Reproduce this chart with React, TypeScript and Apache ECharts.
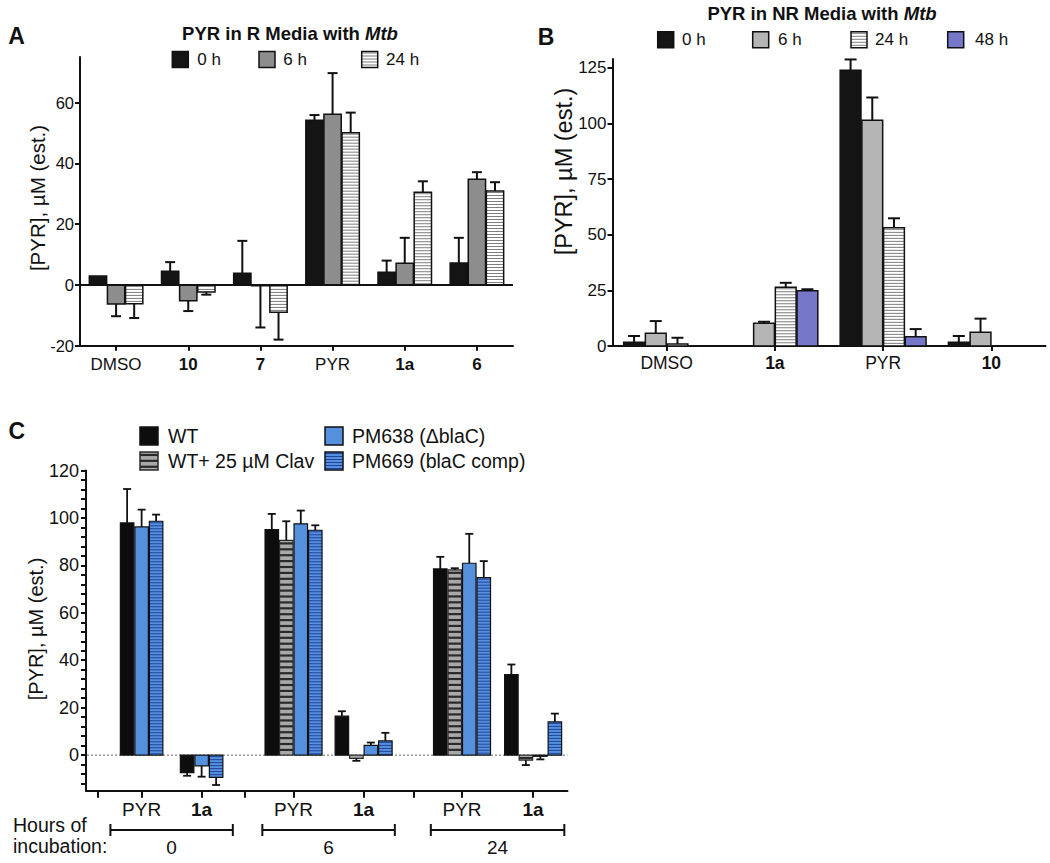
import { useEffect, useRef } from "react";
import * as echarts from "echarts";

const FONT = "'Liberation Sans', Arial, Helvetica, sans-serif";
const INK = "#111111";

// ---------------- Panel A data ----------------
const aTitle = "PYR in R Media with ";
const aTitleItalic = "Mtb";
const aCategories = ["DMSO", "10", "7", "PYR", "1a", "6"];
const aBoldLabels = ["10", "7", "1a", "6"];
const aSeriesNames = ["0 h", "6 h", "24 h"];
const a0h = [2.9, 4.5, 3.8, 54.2, 4.2, 7.2];
const a0hErr = [0, 3.0, 10.7, 1.7, 3.8, 8.3];
const a6h = [-6.3, -5.2, -0.3, 56.2, 7.1, 34.8];
const a6hErr = [4.0, 3.4, 13.7, 13.5, 8.4, 2.3];
const a24h = [-6.2, -2.3, -9.0, 50.1, 30.5, 30.9];
const a24hErr = [4.7, 0.9, 9.0, 6.6, 3.6, 2.9];
const aYTicks = [-20, 0, 20, 40, 60];

// ---------------- Panel B data ----------------
const bTitle = "PYR in NR Media with ";
const bTitleItalic = "Mtb";
const bCategories = ["DMSO", "1a", "PYR", "10"];
const bBoldLabels = ["1a", "10"];
const bSeriesNames = ["0 h", "6 h", "24 h", "48 h"];
const b0h = [1.7, null, 123.9, 1.7];
const b0hErr = [2.8, 0, 4.9, 2.8];
const b6h = [5.7, 10.2, 101.5, 6.2];
const b6hErr = [5.5, 0.7, 10.2, 6.1];
const b24h = [0.9, 26.4, 53.1, null];
const b24hErr = [2.8, 2.0, 4.3, 0];
const b48h = [null, 24.8, 4.2, null];
const b48hErr = [0, 0.7, 3.4, 0];
const bYTicks = [0, 25, 50, 75, 100, 125];

// ---------------- Panel C data ----------------
const cHours = ["0", "6", "24"];
const cCategories = ["PYR", "1a", "PYR", "1a", "PYR", "1a"];
const cBoldLabels = ["1a"];
const cSeriesNames = ["WT", "WT+ 25 µM Clav", "PM638 (ΔblaC)", "PM669 (blaC comp)"];
const cWT = [97.9, -7.4, 95.1, 16.4, 78.5, 34.0];
const cWTErr = [14.3, 1.3, 6.6, 2.1, 5.1, 4.2];
const cClav = [null, null, 90.5, -1.4, 78.1, -2.1];
const cClavErr = [0, 0, 8.1, 1.0, 0.7, 2.1];
const cPM638 = [96.2, -4.5, 97.5, 4.1, 80.9, -0.5];
const cPM638Err = [7.3, 4.6, 5.6, 1.2, 12.4, 1.3];
const cPM669 = [98.6, -9.4, 94.8, 6.0, 74.8, 14.0];
const cPM669Err = [2.8, 3.2, 2.1, 3.4, 7.0, 3.5];
const cYLabels = [0, 20, 40, 60, 80, 100, 120];
const cYTicks = [-12, -8, -4, 0, 4, 8, 12, 16, 20, 24, 28, 32, 36, 40, 44, 48, 52, 56, 60, 64, 68, 72, 76, 80, 84, 88, 92, 96, 100, 104, 108, 112, 116, 120];
const cAxisTitle1 = "Hours of";
const cAxisTitle2 = "incubation:";
const yTitle = "[PYR], µM (est.)";

// ---------------- layout constants (panel C x placement) ----------------
const C_POS = [0, 1.0, 2.532, 3.7, 5.34, 6.525];
const C_SEP = [-0.733, 1.723, 4.528];
const C_XMIN = -0.927;
const C_XMAX = 7.098;
const C_BRACKET_PAD = 0.52;

type BarStyle = { fill: string; stroke?: string; hatch?: string; gap?: number; hw?: number };

const aStyles: BarStyle[] = [
  { fill: "#141414" },
  { fill: "#8d8d8d" },
  { fill: "#ffffff", hatch: "#7d7d7d", gap: 3, hw: 1 },
];
const bStyles: BarStyle[] = [
  { fill: "#141414" },
  { fill: "#b5b5b5" },
  { fill: "#ffffff", hatch: "#7d7d7d", gap: 3, hw: 1 },
  { fill: "#7777c9" },
];
const cStyles: BarStyle[] = [
  { fill: "#0d0d0d" },
  { fill: "#a9a9a9", stroke: "#2a2a2a", hatch: "#2a2a2a", gap: 5.9, hw: 2.2 },
  { fill: "#5590dc" },
  { fill: "#5590dc", hatch: "#23449e", gap: 3, hw: 1 },
];

function barShapes(x: number, y: number, w: number, h: number, st: BarStyle, lw: number, z = 0): any[] {
  const els: any[] = [
    { type: "rect", z, shape: { x, y, width: w, height: h }, style: { fill: st.fill } },
  ];
  if (st.hatch && h > 1) {
    const gap = st.gap || 3;
    for (let yy = y + gap / 2; yy < y + h - 0.6; yy += gap) {
      els.push({
        type: "line",
        z,
        shape: { x1: x, y1: yy, x2: x + w, y2: yy },
        style: { stroke: st.hatch, lineWidth: st.hw || 1 },
      });
    }
  }
  els.push({
    type: "rect",
    z,
    shape: { x, y, width: w, height: h },
    style: { fill: "none", stroke: st.stroke || INK, lineWidth: lw },
  });
  return els;
}

interface PanelCfg {
  xAxisIndex: number;
  yAxisIndex: number;
  slot: number;
  barW: number;
  capW: number;
  errW: number;
  strokeW: number;
  centered: boolean;
  peers: (number | null)[][];
  xs: number[] | null;
}

function makeSeries(cfg: PanelCfg, sIdx: number, name: string, values: (number | null)[], errs: number[], style: BarStyle) {
  const data: number[][] = [];
  values.forEach((v, i) => {
    if (v == null) return;
    data.push([cfg.xs ? cfg.xs[i] : i, v, errs[i] || 0, i]);
  });
  return {
    type: "custom",
    name,
    xAxisIndex: cfg.xAxisIndex,
    yAxisIndex: cfg.yAxisIndex,
    data,
    z: 3,
    clip: false,
    encode: { x: 0, y: 1 },
    renderItem: (_params: any, api: any) => {
      const xv = api.value(0) as number;
      const v = api.value(1) as number;
      const e = api.value(2) as number;
      const ci = api.value(3) as number;
      let n = cfg.peers.length;
      let k = sIdx;
      if (cfg.centered) {
        n = 0;
        k = 0;
        cfg.peers.forEach((arr, j) => {
          if (arr[ci] != null) {
            if (j < sIdx) k++;
            n++;
          }
        });
      }
      const base = api.coord([xv, 0]);
      const tip = api.coord([xv, v]);
      const left = base[0] - (n * cfg.slot) / 2 + k * cfg.slot + (cfg.slot - cfg.barW) / 2;
      const y = Math.min(base[1], tip[1]);
      const h = Math.abs(base[1] - tip[1]);
      const children = barShapes(left, y, cfg.barW, h, style, cfg.strokeW);
      if (e > 0) {
        const dir = v < 0 ? -1 : 1;
        const end = api.coord([xv, v + dir * e])[1];
        const cx = left + cfg.barW / 2;
        children.push({
          type: "line",
          shape: { x1: cx, y1: tip[1], x2: cx, y2: end },
          style: { stroke: INK, lineWidth: cfg.errW },
        });
        children.push({
          type: "line",
          shape: { x1: cx - cfg.capW / 2, y1: end, x2: cx + cfg.capW / 2, y2: end },
          style: { stroke: INK, lineWidth: cfg.errW },
        });
      }
      return { type: "group", children };
    },
  };
}

const axisLine = { show: true, onZero: false, lineStyle: { color: INK, width: 2 } };
const richFor = (size: number) => ({
  n: { fontSize: size, fontFamily: FONT, color: INK },
  b: { fontSize: size, fontFamily: FONT, color: INK, fontWeight: "bold" },
});
const labelRich = (bold: string[], v: string) => (bold.indexOf(v) >= 0 ? `{b|${v}}` : `{n|${v}}`);

function buildOption() {
  const aPeers = [a0h, a6h, a24h];
  const bPeers = [b0h, b6h, b24h, b48h];
  const cPeers = [cWT, cClav, cPM638, cPM669];
  const cfgA: PanelCfg = { xAxisIndex: 0, yAxisIndex: 0, slot: 18.1, barW: 17.3, capW: 10, errW: 2, strokeW: 1.5, centered: false, peers: aPeers, xs: null };
  const cfgB: PanelCfg = { xAxisIndex: 1, yAxisIndex: 1, slot: 21.7, barW: 20.8, capW: 12, errW: 2, strokeW: 1.5, centered: false, peers: bPeers, xs: null };
  const cfgC: PanelCfg = { xAxisIndex: 2, yAxisIndex: 2, slot: 14.5, barW: 13.5, capW: 8, errW: 1.8, strokeW: 1.2, centered: true, peers: cPeers, xs: C_POS };

  const aErrs = [a0hErr, a6hErr, a24hErr];
  const bErrs = [b0hErr, b6hErr, b24hErr, b48hErr];
  const cErrs = [cWTErr, cClavErr, cPM638Err, cPM669Err];

  const series: any[] = [];
  aPeers.forEach((vals, i) => series.push(makeSeries(cfgA, i, "A " + aSeriesNames[i], vals, aErrs[i], aStyles[i])));
  bPeers.forEach((vals, i) => series.push(makeSeries(cfgB, i, "B " + bSeriesNames[i], vals, bErrs[i], bStyles[i])));
  cPeers.forEach((vals, i) => series.push(makeSeries(cfgC, i, cSeriesNames[i], vals, cErrs[i], cStyles[i])));

  const cLabelFor = (val: number) => {
    for (let i = 0; i < C_POS.length; i++) if (Math.abs(C_POS[i] - val) < 1e-6) return labelRich(cBoldLabels, cCategories[i]);
    return "";
  };

  return {
    animation: false,
    backgroundColor: "#ffffff",
    textStyle: { fontFamily: FONT, color: INK },
    grid: [
      { left: 80, top: 57, width: 433, height: 288.7, outerBoundsMode: "none" },
      { left: 612.5, top: 59, width: 433, height: 287, outerBoundsMode: "none" },
      { left: 86, top: 470.5, width: 481.5, height: 320.2, outerBoundsMode: "none" },
    ],
    xAxis: [
      {
        gridIndex: 0,
        type: "category",
        data: aCategories,
        axisLine,
        axisTick: { show: true, alignWithLabel: true, length: 5, lineStyle: { color: INK, width: 2 } },
        axisLabel: { margin: 10, formatter: (v: string) => labelRich(aBoldLabels, v), rich: richFor(17) },
        splitLine: { show: false },
      },
      {
        gridIndex: 1,
        type: "category",
        data: bCategories,
        axisLine,
        axisTick: { show: true, alignWithLabel: true, length: 5, lineStyle: { color: INK, width: 2 } },
        axisLabel: { margin: 8, formatter: (v: string) => labelRich(bBoldLabels, v), rich: richFor(17.5) },
        splitLine: { show: false },
      },
      {
        gridIndex: 2,
        type: "value",
        min: C_XMIN,
        max: C_XMAX,
        axisLine,
        axisTick: { show: true, length: 7, lineStyle: { color: INK, width: 2 }, customValues: [...C_SEP, ...C_POS] },
        axisLabel: { margin: 9, customValues: C_POS, formatter: cLabelFor, rich: richFor(19) },
        splitLine: { show: false },
      },
    ],
    yAxis: [
      {
        gridIndex: 0,
        type: "value",
        min: -20,
        max: 75,
        axisLine,
        axisTick: { show: true, length: 5, lineStyle: { color: INK, width: 2 }, customValues: aYTicks },
        axisLabel: { customValues: aYTicks, fontSize: 16.5, fontFamily: FONT, color: INK, margin: 6 },
        splitLine: { show: false },
      },
      {
        gridIndex: 1,
        type: "value",
        min: 0,
        max: 129,
        axisLine,
        axisTick: { show: true, length: 5, lineStyle: { color: INK, width: 2 }, customValues: bYTicks },
        axisLabel: { customValues: bYTicks, fontSize: 17, fontFamily: FONT, color: INK, margin: 6 },
        splitLine: { show: false },
      },
      {
        gridIndex: 2,
        type: "value",
        min: -15,
        max: 120,
        axisLine,
        axisTick: { show: true, length: 5, lineStyle: { color: INK, width: 2 }, customValues: cYTicks },
        axisLabel: { customValues: cYLabels, fontSize: 18, fontFamily: FONT, color: INK, margin: 7 },
        splitLine: { show: false },
      },
    ],
    series,
  };
}

function text(x: number, y: number, str: string, size: number, opts: any = {}) {
  return {
    type: "text",
    x,
    y,
    rotation: opts.rot || 0,
    z: 20,
    style: {
      text: str,
      fontSize: size,
      fontFamily: FONT,
      fontWeight: opts.bold ? "bold" : "normal",
      fill: INK,
      textAlign: opts.align || "center",
      textVerticalAlign: "middle",
      rich: opts.rich,
    },
  };
}

function titleRich(size: number) {
  return {
    n: { fontSize: size, fontFamily: FONT, fontWeight: "bold", fill: INK, color: INK },
    i: { fontSize: size, fontFamily: FONT, fontWeight: "bold", fontStyle: "italic", fill: INK, color: INK },
  };
}

function legendItem(x: number, y: number, size: number, st: BarStyle, label: string, textX: number, fontSize: number) {
  return {
    type: "group",
    children: [
      ...barShapes(x, y, size, size, st, 1.5, 20),
      text(textX, y + size / 2, label, fontSize, { align: "left" }),
    ],
  };
}

export default function App() {
  const ref = useRef<HTMLDivElement>(null);
  useEffect(() => {
    if (!ref.current) return;
    const chart = echarts.init(ref.current, null, { renderer: "svg" });
    chart.setOption(buildOption() as any);

    const zeroA = chart.convertToPixel({ yAxisIndex: 0 } as any, 0) as unknown as number;
    const zeroC = chart.convertToPixel({ yAxisIndex: 2 } as any, 0) as unknown as number;
    const cx = (v: number) => chart.convertToPixel({ xAxisIndex: 2 } as any, v) as unknown as number;

    const g: any[] = [];
    // panel letters
    g.push(text(16.6, 35.5, "A", 23, { bold: true }));
    g.push(text(546, 37, "B", 23, { bold: true }));
    g.push(text(16.8, 430.5, "C", 23, { bold: true }));
    // titles
    g.push(text(290, 33, `{n|${aTitle}}{i|${aTitleItalic}}`, 18.5, { rich: titleRich(18.5) }));
    g.push(text(822, 13.5, `{n|${bTitle}}{i|${bTitleItalic}}`, 18.5, { rich: titleRich(18.5) }));
    // y-axis titles
    g.push(text(37.2, 198, yTitle, 20.5, { rot: Math.PI / 2 }));
    g.push(text(564, 171.5, yTitle, 23.5, { rot: Math.PI / 2 }));
    g.push(text(36.4, 629, yTitle, 20, { rot: Math.PI / 2 }));
    // legends A
    const aSq = [172.3, 259, 361.7];
    const aTx = [197.3, 283.3, 386];
    aSeriesNames.forEach((nm, i) => g.push(legendItem(aSq[i], 51.5, 16, aStyles[i], nm, aTx[i], 17)));
    // legends B
    const bSq = [657.7, 752.7, 851, 947.7];
    const bTx = [682, 778, 875, 975];
    bSeriesNames.forEach((nm, i) => g.push(legendItem(bSq[i], 31.8, 16, bStyles[i], nm, bTx[i], 17)));
    // legends C
    const cSqX = [140, 140, 325, 325];
    const cSqY = [427, 452, 427, 452];
    const cTx = [168, 168, 352, 352];
    cSeriesNames.forEach((nm, i) => g.push(legendItem(cSqX[i], cSqY[i], 18, cStyles[i], nm, cTx[i], 19.5)));
    // zero line A (solid)
    g.push({ type: "line", z: 10, shape: { x1: 80, y1: zeroA, x2: 513, y2: zeroA }, style: { stroke: INK, lineWidth: 2 } });
    // zero line C (dotted)
    g.push({ type: "line", z: 1, shape: { x1: 87, y1: zeroC, x2: 567.5, y2: zeroC }, style: { stroke: "#666666", lineWidth: 1, lineDash: [2, 2] } });
    // C brackets
    cHours.forEach((h, gi) => {
      const x1 = cx(C_POS[gi * 2] - C_BRACKET_PAD);
      const x2 = cx(C_POS[gi * 2 + 1] + C_BRACKET_PAD);
      const yb = 830;
      const st = { stroke: INK, lineWidth: 2 };
      g.push({ type: "line", z: 10, shape: { x1, y1: yb, x2, y2: yb }, style: st });
      g.push({ type: "line", z: 10, shape: { x1, y1: yb - 6, x2: x1, y2: yb + 6 }, style: st });
      g.push({ type: "line", z: 10, shape: { x1: x2, y1: yb - 6, x2, y2: yb + 6 }, style: st });
      g.push(text((x1 + x2) / 2, 847, h, 19));
    });
    g.push(text(13, 825, cAxisTitle1, 19.5, { align: "left" }));
    g.push(text(13, 846, cAxisTitle2, 19.5, { align: "left" }));

    chart.setOption({ graphic: { elements: g } } as any);
    return () => chart.dispose();
  }, []);
  return (
    <div
      ref={ref}
      style={{ position: "fixed", left: 0, top: 0, width: 1050, height: 863, background: "#ffffff" }}
    />
  );
}
